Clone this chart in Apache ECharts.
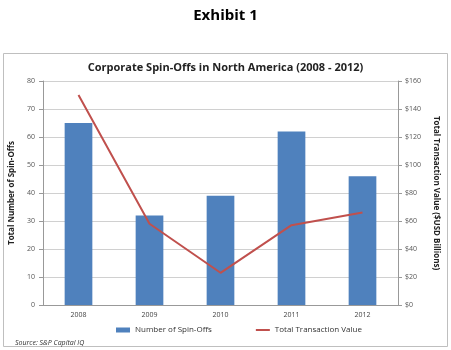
<!DOCTYPE html>
<html>
<head>
<meta charset="utf-8">
<script src="https://cdn.jsdelivr.net/npm/echarts@6/dist/echarts.min.js"></script>
<style>
  html, body { margin: 0; padding: 0; background: #fff; }
  #chart { width: 451px; height: 350px; }
</style>
</head>
<body>
<div id="chart"></div>
<script>
var years = ["2008", "2009", "2010", "2011", "2012"];
var spinOffs = [65, 32, 39, 62, 46];
var transValue = [150, 58, 23, 57, 66];
var leftTicks = [0, 80, 10];
var rightTicks = [0, 160, 20];

var myChart = echarts.init(document.getElementById("chart"));
var font = "Open Sans";

var option = {
  animation: false,
  textStyle: { fontFamily: font },
  title: [
    {
      text: "Exhibit 1",
      left: "center",
      top: 3,
      textStyle: { fontSize: 15, fontWeight: "bold", color: "#000", fontFamily: font }
    },
    {
      text: "Corporate Spin-Offs in North America (2008 - 2012)",
      left: "center",
      top: 57,
      textStyle: { fontSize: 11, fontWeight: "bold", color: "#222", fontFamily: font }
    },
    {
      text: "Source: S&P Capital IQ",
      left: 10,
      top: 334,
      textStyle: { fontSize: 7, fontStyle: "italic", fontWeight: "normal", color: "#333", fontFamily: font }
    }
  ],
  graphic: [
    {
      type: "rect",
      shape: { x: 3.5, y: 53.5, width: 444, height: 293 },
      style: { fill: null, stroke: "#bfbfbf", lineWidth: 1 },
      silent: true
    }
  ],
  legend: {
    top: 321,
    left: 111,
    itemGap: 44,
    itemWidth: 14,
    itemHeight: 5,
    textStyle: { fontSize: 8, color: "#333", fontFamily: font },
    data: [
      { name: "Number of Spin-Offs", icon: "rect" },
      { name: "Total Transaction Value", icon: "path://M0,0H28V4H0Z", itemStyle: { color: "#c0504d" } }
    ]
  },
  grid: { left: 43, right: 53, top: 81, bottom: 45 },
  xAxis: {
    type: "category",
    data: years,
    axisLine: { lineStyle: { color: "#999" } },
    axisTick: { show: false },
    axisLabel: { fontSize: 7, color: "#444", margin: 6 }
  },
  yAxis: [
    {
      type: "value",
      min: leftTicks[0],
      max: leftTicks[1],
      interval: leftTicks[2],
      name: "Total Number of Spin-Offs",
      nameLocation: "middle",
      nameGap: 25,
      nameTextStyle: { fontSize: 8, fontWeight: "bold", color: "#222" },
      axisLine: { show: true, lineStyle: { color: "#999" } },
      axisTick: { show: true, length: 4, lineStyle: { color: "#999" } },
      axisLabel: { fontSize: 7, color: "#555", margin: 8 },
      splitLine: { lineStyle: { color: "#d0d0d0" } }
    },
    {
      type: "value",
      min: rightTicks[0],
      max: rightTicks[1],
      interval: rightTicks[2],
      name: "Total Transaction Value ($USD Billions)",
      nameLocation: "middle",
      nameGap: 33,
      nameRotate: -90,
      nameTextStyle: { fontSize: 8, fontWeight: "bold", color: "#222" },
      axisLine: { show: true, lineStyle: { color: "#999" } },
      axisTick: { show: true, length: 4, lineStyle: { color: "#999" } },
      axisLabel: { fontSize: 7, color: "#555", margin: 7, formatter: "${value}" },
      splitLine: { show: false }
    }
  ],
  series: [
    {
      name: "Number of Spin-Offs",
      type: "bar",
      yAxisIndex: 0,
      barWidth: "39%",
      itemStyle: { color: "#4f81bd" },
      data: spinOffs
    },
    {
      name: "Total Transaction Value",
      type: "line",
      yAxisIndex: 1,
      symbol: "none",
      lineStyle: { color: "#c0504d", width: 2 },
      itemStyle: { color: "#c0504d" },
      data: transValue
    }
  ]
};

myChart.setOption(option);
</script>
</body>
</html>
